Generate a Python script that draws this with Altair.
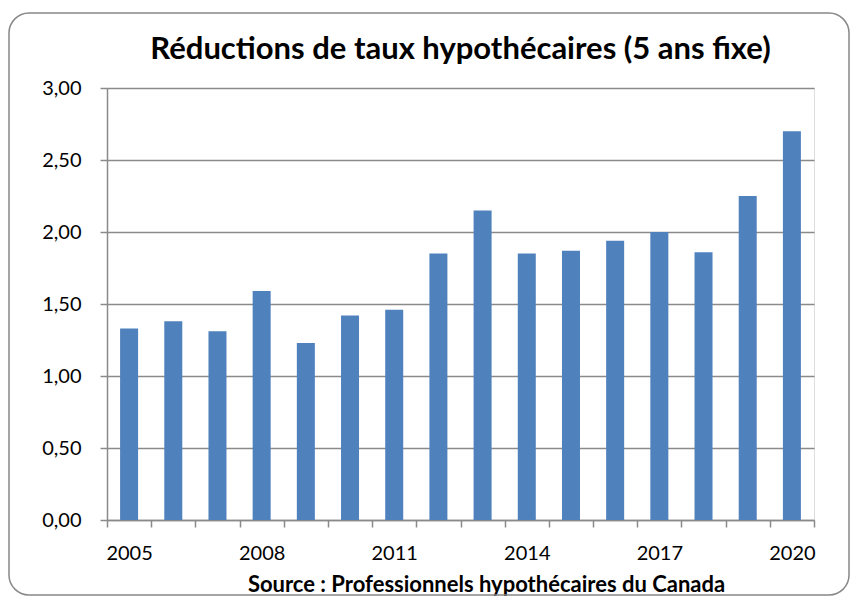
import altair as alt
import pandas as pd

years = [str(y) for y in range(2005, 2021)]
values = [1.33, 1.38, 1.31, 1.59, 1.23, 1.42, 1.46, 1.85, 2.15, 1.85, 1.87, 1.94, 2.00, 1.86, 2.25, 2.70]
shown_years = ["2005", "2008", "2011", "2014", "2017", "2020"]
y_ticks = [0, 0.5, 1.0, 1.5, 2.0, 2.5, 3.0]

df = pd.DataFrame({"year": years, "value": values})

GRID = "#8a8a8a"
FONT = "Lato"

label_expr = "indexof(" + str(shown_years) + ", datum.label) >= 0 ? datum.label : ''"

bars = alt.Chart(df).mark_bar(color="#4F81BD", size=18).encode(
    x=alt.X(
        "year:O",
        sort=years,
        scale=alt.Scale(paddingInner=0, paddingOuter=0),
        axis=alt.Axis(
            title="Source : Professionnels hypothécaires du Canada",
            titleFont=FONT,
            titleFontSize=22,
            titleFontWeight="bold",
            titleColor="#000000",
            titlePadding=11,
            titleX=379,
            titleAlign="center",
            labelExpr=label_expr,
            labelAngle=0,
            labelFont=FONT,
            labelFontSize=20,
            labelColor="#000000",
            labelPadding=16,
            tickBand="extent",
            tickSize=7,
            tickColor=GRID,
            tickWidth=1.5,
            domainColor=GRID,
            domainWidth=1.5,
            grid=False,
        ),
    ),
    y=alt.Y(
        "value:Q",
        scale=alt.Scale(domain=[0, 3], nice=False),
        axis=alt.Axis(
            title=None,
            values=y_ticks,
            labelExpr="replace(format(datum.value, '.2f'), '.', ',')",
            labelFont=FONT,
            labelFontSize=20,
            labelColor="#000000",
            labelPadding=19,
            tickSize=7,
            tickColor=GRID,
            tickWidth=1.5,
            domainColor=GRID,
            domainWidth=1.5,
            grid=True,
            gridColor=GRID,
            gridWidth=1.5,
        ),
    ),
)

frame = alt.Chart(pd.DataFrame({"f": [0]})).mark_rect(
    fill="white", fillOpacity=0, stroke="#888888", strokeWidth=1.5, cornerRadius=20, clip=False
).encode(
    x=alt.value(-98), x2=alt.value(742), y=alt.value(-75), y2=alt.value(507)
)

chart = alt.layer(frame, bars).properties(
    width=707,
    height=432,
    title=alt.TitleParams(
        "Réductions de taux hypothécaires (5 ans fixe)",
        font=FONT,
        fontSize=31,
        fontWeight="bold",
        color="#000000",
        anchor="middle",
        baseline="alphabetic",
        offset=-78,
    ),
    autosize=alt.AutoSizeParams(type="none"),
    padding={"left": 99, "top": 80, "right": 37, "bottom": 77},
).configure_view(stroke=None).configure(background="white")

chart.save("out.html", embed_options={"renderer": "svg", "actions": False})
